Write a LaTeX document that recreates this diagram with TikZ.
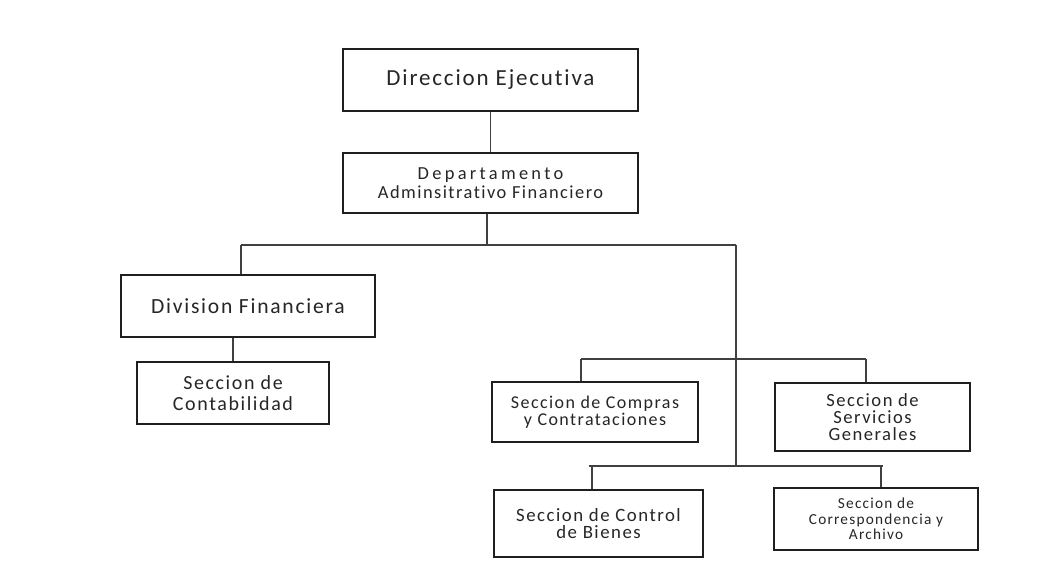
\documentclass[tikz,border=0pt]{standalone}
\usepackage{fontspec}
\setmainfont{Carlito}[LetterSpace=8,Ligatures=NoCommon]
\begin{document}
\begin{tikzpicture}[x=1pt,y=-1pt,
  box/.style={draw=black!88, line width=1.8pt, fill=white, inner sep=0pt, align=center, text=black!85},
  conn/.style={draw=black!75, line width=1.1pt}]
\useasboundingbox (0,0) rectangle (1042,581);
\fill[white] (0,0) rectangle (1042,581);
\node[box, minimum width=295pt, minimum height=62pt, font=\fontsize{23}{26}\selectfont] (DE) at (490.5,80) {Direccion Ejecutiva};
\node[box, minimum width=295pt, minimum height=60pt, font=\fontsize{18.4}{18.5}\selectfont] (DAF) at (490.5,183) {{\addfontfeature{LetterSpace=18}Departamento}\\Adminsitrativo Financiero};
\node[box, minimum width=254pt, minimum height=62pt, font=\fontsize{21.6}{24}\selectfont] (DF) at (248,306) {Division Financiera};
\node[box, minimum width=192pt, minimum height=62pt, font=\fontsize{20}{21}\selectfont] (SC) at (233,393) {Seccion de\\Contabilidad};
\node[box, minimum width=206pt, minimum height=60pt, font=\fontsize{18}{17}\selectfont] (CC) at (595,412) {Seccion de Compras\\y Contrataciones};
\node[box, minimum width=195pt, minimum height=68pt, font=\fontsize{18.6}{17}\selectfont] (SG) at (872.5,417) {Seccion de\\Servicios\\Generales};
\node[box, minimum width=209pt, minimum height=67pt, font=\fontsize{18.8}{17.5}\selectfont] (CB) at (598.5,523.5) {Seccion de Control\\de Bienes};
\node[box, minimum width=204pt, minimum height=62pt, font=\fontsize{15.3}{15.5}\selectfont] (CA) at (876,519) {Seccion de\\Correspondencia y\\Archivo};

\coordinate (hL) at (241,245);
\coordinate (hM) at (487,245);
\coordinate (hR) at (736,245);
\coordinate (uL) at (581,359);
\coordinate (uR) at (866,359);
\coordinate (lL) at (589,466);
\coordinate (lR) at (883,466);
\coordinate (tB) at (736,465);
\coordinate (dL) at (592,466);
\coordinate (dR) at (881,466);

\draw[conn] (DE.south) -- (DAF.north);
\draw[conn] (hM |- DAF.south) -- (hM);
\draw[conn] (hL) -- (hR);
\draw[conn] (hL) -- (hL |- DF.north);
\draw[conn] (SC.north) -- (SC.north |- DF.south);
\draw[conn] (hR) -- (tB);
\draw[conn] (uL) -- (uR);
\draw[conn] (uL) -- (uL |- CC.north);
\draw[conn] (uR) -- (uR |- SG.north);
\draw[conn] (lL) -- (lR);
\draw[conn] (dL) -- (dL |- CB.north);
\draw[conn] (dR) -- (dR |- CA.north);
\end{tikzpicture}
\end{document}
